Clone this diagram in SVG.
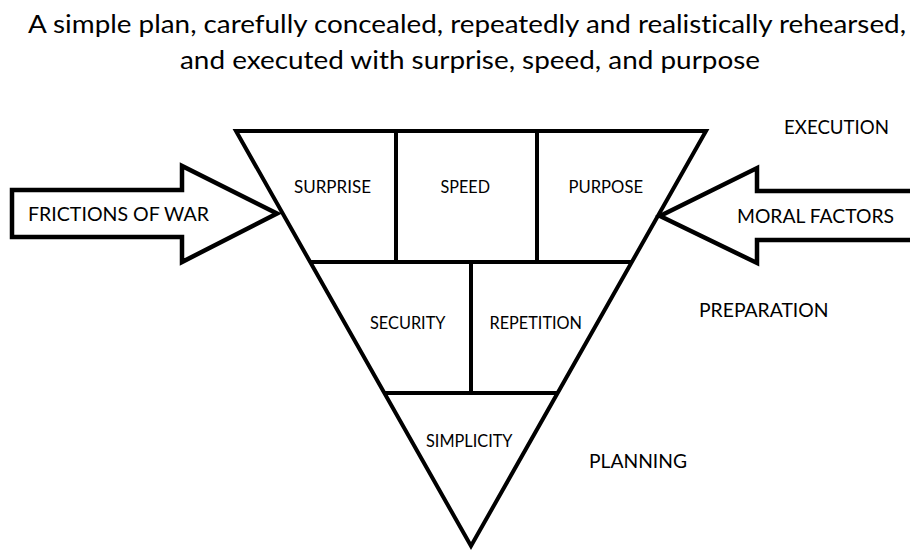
<svg xmlns="http://www.w3.org/2000/svg" width="910" height="551" viewBox="0 0 910 551">
  <style>
    .ln { fill: none; stroke: #000; stroke-width: 4; stroke-linejoin: miter; stroke-linecap: butt; }
    .blk { fill: #fff; stroke: #000; stroke-width: 4.5; stroke-linejoin: miter; }
    text { font-family: Lato, "Liberation Sans", Arial, sans-serif; fill: #000; font-variant-ligatures: none; }
    .title { font-size: 24.5px; }
    .outer { font-size: 20px; }
    .cell { font-size: 17.5px; }
  </style>
  <rect width="910" height="551" fill="#fff"/>

  <!-- heading -->
  <g id="title">
    <text class="title" x="28" y="33" textLength="878" lengthAdjust="spacingAndGlyphs">A simple plan, carefully concealed, repeatedly and realistically rehearsed,</text>
    <text class="title" x="180" y="69" textLength="580" lengthAdjust="spacingAndGlyphs">and executed with surprise, speed, and purpose</text>
  </g>

  <!-- inverted triangle and its cell dividers -->
  <g id="triangle">
    <polygon class="ln" points="236,131 706,131 471,546"/>
    <line class="ln" x1="396" y1="131" x2="396" y2="262"/>
    <line class="ln" x1="537" y1="131" x2="537" y2="262"/>
    <line class="ln" x1="310" y1="262" x2="632" y2="262"/>
    <line class="ln" x1="471" y1="262" x2="471" y2="393"/>
    <line class="ln" x1="385" y1="393" x2="557" y2="393"/>
  </g>

  <g id="surprise"><text class="cell" x="294" y="193" textLength="77" lengthAdjust="spacingAndGlyphs">SURPRISE</text></g>
  <g id="speed"><text class="cell" x="440.5" y="193" textLength="49.5" lengthAdjust="spacingAndGlyphs">SPEED</text></g>
  <g id="purpose"><text class="cell" x="568.5" y="193" textLength="74.5" lengthAdjust="spacingAndGlyphs">PURPOSE</text></g>
  <g id="security"><text class="cell" x="370" y="329" textLength="75.5" lengthAdjust="spacingAndGlyphs">SECURITY</text></g>
  <g id="repetition"><text class="cell" x="489.5" y="329" textLength="92.5" lengthAdjust="spacingAndGlyphs">REPETITION</text></g>
  <g id="simplicity"><text class="cell" x="426" y="447" textLength="86.5" lengthAdjust="spacingAndGlyphs">SIMPLICITY</text></g>

  <!-- level captions -->
  <g id="execution"><text class="outer" x="784" y="134" textLength="105" lengthAdjust="spacingAndGlyphs">EXECUTION</text></g>
  <g id="preparation"><text class="outer" x="699" y="317" textLength="129.5" lengthAdjust="spacingAndGlyphs">PREPARATION</text></g>
  <g id="planning"><text class="outer" x="589" y="468" textLength="98" lengthAdjust="spacingAndGlyphs">PLANNING</text></g>

  <!-- block arrows pressing on the triangle -->
  <g id="connectors">
    <g id="frictions">
      <path class="blk" d="M12,190 H182 V166 L277,213.5 L182,262 V237 H12 Z"/>
      <text class="outer" x="28" y="221" textLength="181" lengthAdjust="spacingAndGlyphs">FRICTIONS OF WAR</text>
    </g>
    <g id="moral">
      <path class="blk" d="M918,191 H757 V168 L660,216 L757,263 V240 H918"/>
      <text class="outer" x="737" y="223" textLength="157" lengthAdjust="spacingAndGlyphs">MORAL FACTORS</text>
    </g>
  </g>
</svg>
